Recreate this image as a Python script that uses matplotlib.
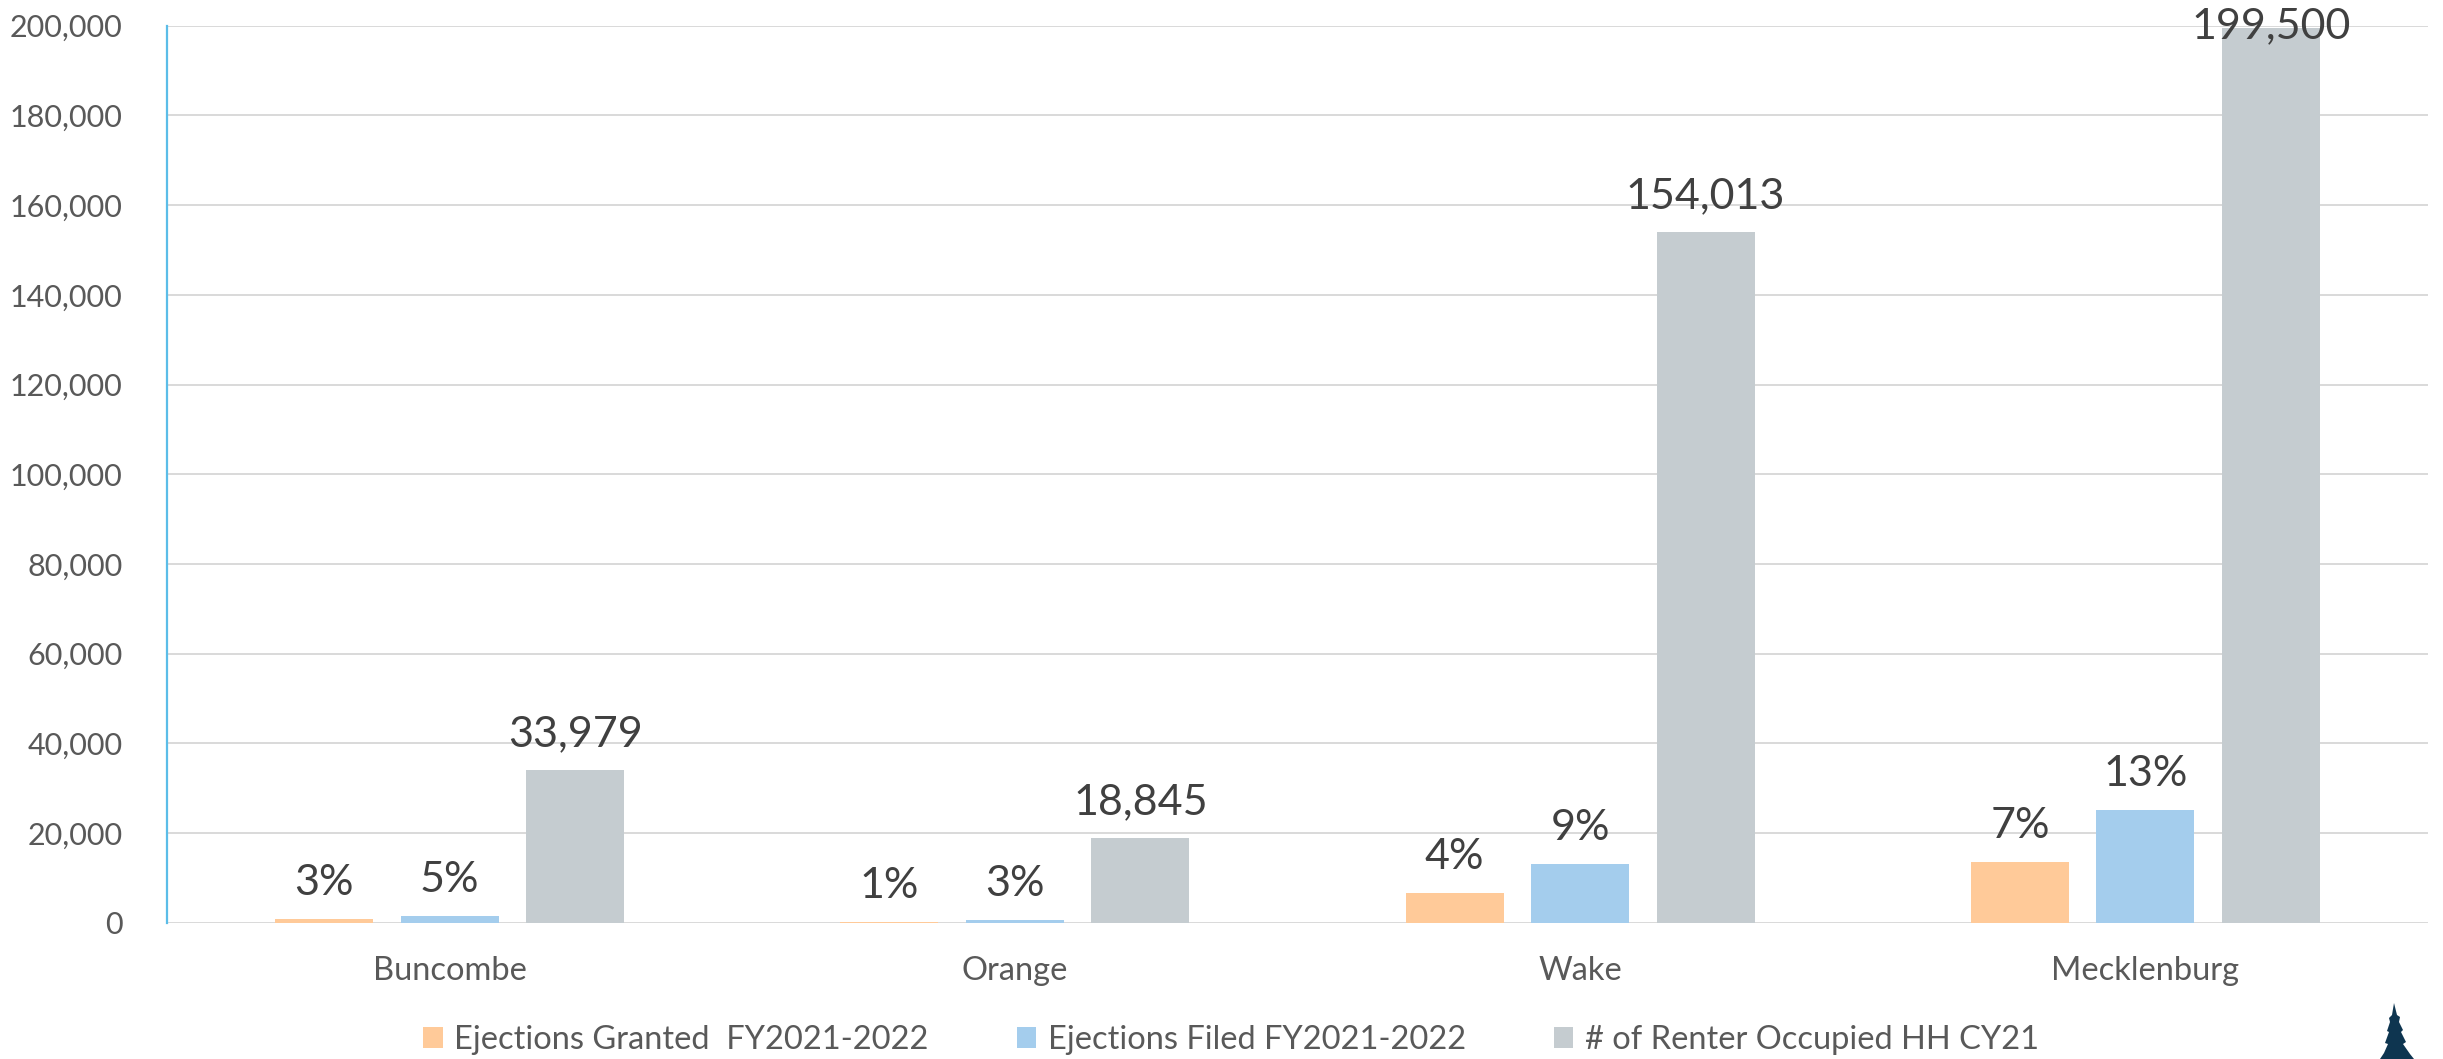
import matplotlib
matplotlib.use("Agg")
import matplotlib.pyplot as plt
from matplotlib.patches import Patch, Polygon
import numpy as np

# ---- data ----
counties = ["Buncombe", "Orange", "Wake", "Mecklenburg"]
series_names = ["Ejections Granted  FY2021-2022",
                "Ejections Filed FY2021-2022",
                "# of Renter Occupied HH CY21"]
granted = [850, 190, 6620, 13470]
filed = [1550, 500, 13090, 25130]
renter_hh = [33979, 18845, 154013, 199500]
granted_labels = ["3%", "1%", "4%", "7%"]
filed_labels = ["5%", "3%", "9%", "13%"]
renter_labels = ["33,979", "18,845", "154,013", "199,500"]
yticks = [0, 20000, 40000, 60000, 80000, 100000, 120000, 140000, 160000, 180000, 200000]

colors = ["#FFCA99", "#A4CDED", "#C5CCD0"]

W, H = 2443, 1059
DPI = 100
plt.rcParams['font.family'] = ['Lato', 'DejaVu Sans']

fig = plt.figure(figsize=(W / DPI, H / DPI), dpi=DPI)
ax = fig.add_axes([167 / W, 1 - 922.7 / H, (2428 - 167) / W, (922.7 - 25.7) / H])

x = np.arange(len(counties))
step = 0.222
width = 0.173
all_vals = [granted, filed, renter_hh]
all_labels = [granted_labels, filed_labels, renter_labels]

ymax = 200000
px_per_unit = (922.7 - 25.7) / ymax
off = 24 / px_per_unit          # label baseline 24 px above the bar top

for k, (vals, labs) in enumerate(zip(all_vals, all_labels)):
    xs = x + (k - 1) * step
    ax.bar(xs, vals, width=width, color=colors[k], zorder=3, linewidth=0)
    for xi, v, lab in zip(xs, vals, labs):
        yl = v + off
        if yl > ymax:          # Excel keeps the label inside the plot area
            yl = v - 10 / px_per_unit
        ax.text(xi, yl, lab, ha='center', va='baseline', fontsize=31,
                color='#404040', zorder=4, clip_on=False)

ax.set_xlim(-0.5, len(counties) - 0.5)
ax.set_ylim(0, ymax)
ax.set_yticks(yticks)
ax.set_yticklabels([f"{t:,}" for t in yticks])
ax.set_xticks(x)
ax.set_xticklabels(counties)
ax.tick_params(axis='y', length=0, pad=32, labelsize=22, labelcolor='#595959')
ax.tick_params(axis='x', length=0, pad=24, labelsize=23.5, labelcolor='#595959')

ax.grid(axis='y', color='#D9D9D9', linewidth=1.4, zorder=0)
ax.set_axisbelow(True)
for s in ['top', 'right', 'bottom']:
    ax.spines[s].set_visible(False)
ax.spines['left'].set_color('#5BBDE8')
ax.spines['left'].set_linewidth(1.6)
ax.spines['left'].set_zorder(5)

handles = [Patch(facecolor=c, edgecolor='none', label=n) for c, n in zip(colors, series_names)]
fig.legend(handles=handles, loc='center', bbox_to_anchor=(1231 / W, 1 - 1040 / H),
           ncol=3, frameon=False, fontsize=23.5, labelcolor='#595959',
           handlelength=0.6, handleheight=0.6, handletextpad=0.35,
           columnspacing=2.7, borderaxespad=0)

# decorative tree logo (bottom right)
tree_px = [(2394, 1003), (2397, 1015), (2400, 1017), (2399, 1022), (2403, 1030),
           (2401, 1032), (2406, 1042), (2403, 1044), (2410, 1054), (2414, 1059),
           (2380, 1059), (2384, 1053), (2388, 1044), (2385, 1043), (2389, 1032),
           (2387, 1031), (2390, 1022), (2389, 1018), (2392, 1015)]
tree = Polygon([(px / W, 1 - py / H) for px, py in tree_px], closed=True,
               transform=fig.transFigure, facecolor='#0E3550', edgecolor='none')
fig.patches.append(tree)

fig.savefig("out.png", dpi=DPI, facecolor='white')
